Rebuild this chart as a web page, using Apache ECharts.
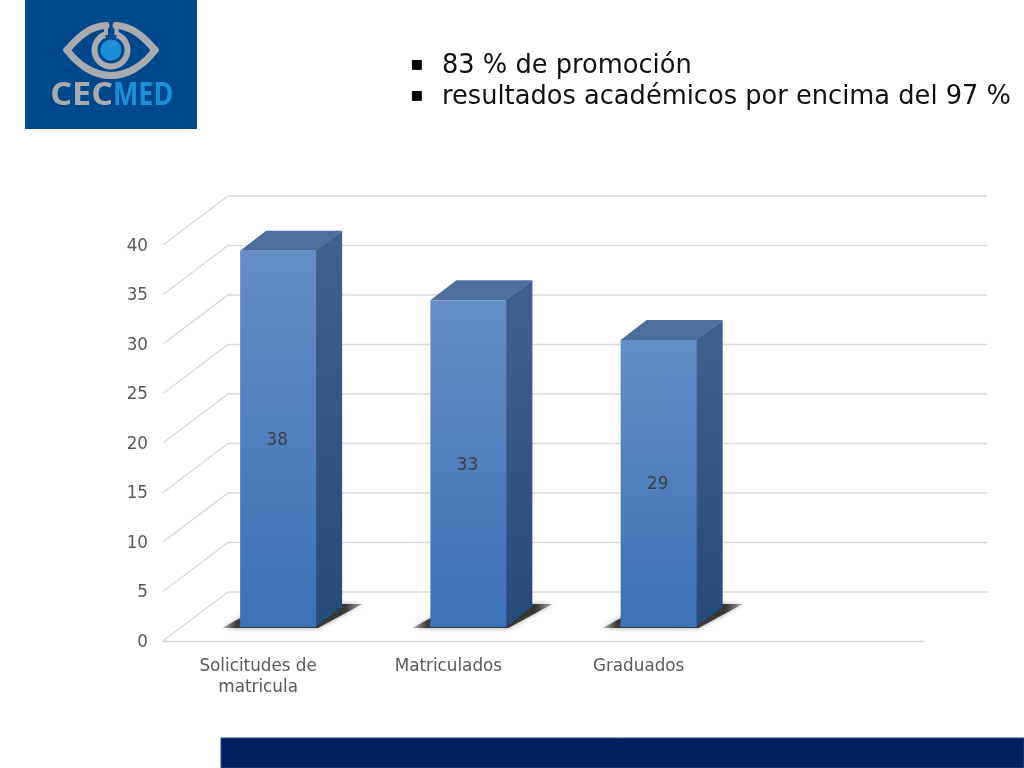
<!DOCTYPE html>
<html><head><meta charset="utf-8">
<style>html,body{margin:0;padding:0;background:#fff}#c{width:1024px;height:768px}</style>
<script src="https://cdn.jsdelivr.net/npm/echarts@6/dist/echarts.min.js"></script>
</head><body><div id="c"></div>
<script>
const categories = ['Solicitudes de\nmatricula', 'Matriculados', 'Graduados', ''];
const values = [38, 33, 29];
const tickValues = [0, 5, 10, 15, 20, 25, 30, 35, 40];
const headerLines = ['83 % de promoción', 'resultados académicos por encima del 97 %'];

const chart = echarts.init(document.getElementById('c'), null, {renderer: 'canvas'});
const FONT = '"DejaVu Sans"';
const WALL = {dx: 65, dy: -49, right: 63};
const BAR = {dx: 20, dy: -14, sx: 26, sy: -20, w: 76};
const grad = (a, b) => new echarts.graphic.LinearGradient(0, 0, 0, 1, [{offset: 0, color: a}, {offset: 1, color: b}]);

function renderWall(params, api) {
  const p = api.coord([0, api.value(1)]);
  const x0 = params.coordSys.x, y = p[1];
  const xEnd = params.coordSys.x + params.coordSys.width + WALL.right;
  return {type: 'group', silent: true, children: [
    {type: 'polyline', shape: {points: [[x0, y], [x0 + WALL.dx, y + WALL.dy], [xEnd, y + WALL.dy]]},
      style: {fill: null, stroke: '#d9d9d9', lineWidth: 1.3}},
    {type: 'text', style: {x: x0 - 15, y: y + 1.5, text: String(api.value(1)), align: 'right', verticalAlign: 'middle',
      fill: '#595959', font: '16.8px ' + FONT}}
  ]};
}
function renderBar(params, api) {
  const top = api.coord([api.value(0), api.value(1)]);
  const base = api.coord([api.value(0), 0]);
  const l = top[0] + BAR.dx - BAR.w / 2;
  const r = l + BAR.w, b = base[1] + BAR.dy;
  const tt = top[1] + BAR.dy;
  const shadow = new echarts.graphic.LinearGradient(0, 0, 1, 0, [
    {offset: 0, color: 'rgba(70,70,70,0.3)'}, {offset: 0.1, color: 'rgba(50,50,50,0.92)'},
    {offset: 0.88, color: 'rgba(45,45,45,0.92)'}, {offset: 1, color: 'rgba(90,90,90,0.5)'}]);
  return {type: 'group', children: [
    {type: 'polygon', silent: true, shape: {points: [[l - 18, b + 1], [r + 2, b + 1], [r + 46, b - 23], [l + 26, b - 23]]},
      style: {fill: shadow, shadowBlur: 5, shadowColor: 'rgba(80,80,80,0.6)'}},
    {type: 'polygon', shape: {points: [[r - 1, tt], [r + BAR.sx, tt + BAR.sy], [r + BAR.sx, b + BAR.sy], [r - 1, b]]},
      style: {fill: grad('#3f6190', '#254b7a')}},
    {type: 'polygon', shape: {points: [[l, tt], [l + BAR.sx, tt + BAR.sy], [r + BAR.sx, tt + BAR.sy], [r, tt]]},
      style: {fill: '#4e6f9e'}},
    {type: 'rect', shape: {x: l, y: tt, width: BAR.w, height: b - tt},
      style: {fill: grad('#648dc9', '#3b72b6')}},
    {type: 'text', style: {x: (l + r) / 2 - 1, y: (tt + b) / 2 + 1.5, text: String(api.value(1)),
      align: 'center', verticalAlign: 'middle', fill: '#404040', font: '16.8px ' + FONT}}
  ]};
}
const eyeStroke = {fill: null, stroke: '#a9abae', lineWidth: 7, lineCap: 'round'};
const curve = (x1, y1, cpx1, cpy1, cpx2, cpy2, x2, y2) => ({type: 'bezierCurve', z: 11,
  shape: {x1, y1, cpx1, cpy1, cpx2, cpy2, x2, y2}, style: eyeStroke});
chart.setOption({
  animation: false,
  backgroundColor: '#fff',
  grid: {left: 163, right: 100, top: 245, bottom: 127},
  xAxis: {type: 'category', data: categories,
    axisLine: {show: true, lineStyle: {color: '#d9d9d9', width: 1.3}}, axisTick: {show: false}, splitLine: {show: false},
    axisLabel: {color: '#595959', fontFamily: FONT, fontSize: 16.8, margin: 15, lineHeight: 21, interval: 0}},
  yAxis: {type: 'value', min: 0, max: 40, interval: 5,
    axisLine: {show: false}, axisTick: {show: false}, splitLine: {show: false},
    axisLabel: {show: false}},
  series: [
    {type: 'custom', renderItem: renderWall, z: 1, silent: true, clip: false,
      data: tickValues.map(v => [0, v]), encode: {x: 0, y: 1}},
    {type: 'custom', renderItem: renderBar, z: 3, clip: false,
      data: values.map((v, i) => [i, v]), encode: {x: 0, y: 1}}
  ],
  graphic: {elements: [
    {type: 'rect', z: 10, shape: {x: 25, y: 0, width: 172, height: 129}, style: {fill: '#00488c'}},
    curve(106, 25.5, 90, 26, 78, 37, 67, 50),
    curve(67, 50, 78, 65, 94, 75.5, 111, 75.5),
    curve(111, 75.5, 128, 75.5, 144, 65, 155, 50),
    curve(155, 50, 144, 37, 132, 26, 116, 25.5),
    {type: 'arc', z: 11, shape: {cx: 111, cy: 50, r: 16.5, startAngle: -1.2, endAngle: 4.34}, style: {fill: null, stroke: '#a9abae', lineWidth: 6}},
    {type: 'line', z: 11, shape: {x1: 106, y1: 23, x2: 106, y2: 35}, style: {stroke: '#a9abae', lineWidth: 4}},
    {type: 'line', z: 11, shape: {x1: 116.5, y1: 23, x2: 116.5, y2: 35}, style: {stroke: '#a9abae', lineWidth: 4}},
    {type: 'circle', z: 12, shape: {cx: 111, cy: 50, r: 10.5}, style: {fill: '#1d8fd8'}},
    {type: 'text', z: 12, x: 113, y: 95.5, scaleX: 1.07, style: {x: 0, y: 0, text: 'CEC', align: 'right', verticalAlign: 'middle', fill: '#a9abae', font: 'bold 32px "Open Sans"'}},
    {type: 'text', z: 12, x: 113, y: 95.5, scaleX: 0.84, style: {x: 0, y: 0, text: 'MED', align: 'left', verticalAlign: 'middle', fill: '#1d8fd8', font: 'bold 32px "Open Sans"'}},
    {type: 'rect', z: 10, shape: {x: 221, y: 738, width: 803, height: 30}, style: {fill: '#002060', stroke: '#1f4e79', lineWidth: 1}},
    {type: 'text', z: 10, style: {x: 410, y: 65, text: '▪', align: 'left', verticalAlign: 'middle', fill: '#000', font: '20px ' + FONT}},
    {type: 'text', z: 10, style: {x: 410, y: 96, text: '▪', align: 'left', verticalAlign: 'middle', fill: '#000', font: '20px ' + FONT}},
    {type: 'text', z: 10, style: {x: 442, y: 66, text: headerLines[0], align: 'left', verticalAlign: 'middle', fill: '#111', font: '25.7px ' + FONT}},
    {type: 'text', z: 10, style: {x: 442, y: 97, text: headerLines[1], align: 'left', verticalAlign: 'middle', fill: '#111', font: '25.7px ' + FONT}}
  ]}
});
</script></body></html>
